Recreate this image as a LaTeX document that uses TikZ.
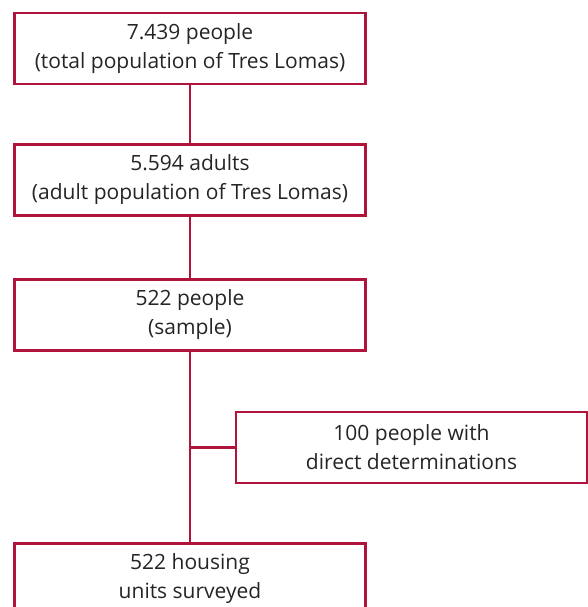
\documentclass[tikz,border=0pt]{standalone}
\usepackage{fontspec}
\setmainfont{Open Sans}
\definecolor{frame}{HTML}{B0143C}
\definecolor{ink}{HTML}{252525}
\begin{document}
\begin{tikzpicture}[x=1pt,y=-1pt,
  box/.style={draw=frame, line width=2.6pt, fill=white, minimum width=351pt, minimum height=71pt,
    inner sep=0pt, align=center, text=ink, font=\fontsize{21}{29}\selectfont},
  link/.style={draw=frame, line width=2.6pt}]
\useasboundingbox (0,0) rectangle (588,607);
\clip (0,0) rectangle (588,607);
\node[box] (b1) at (190,48.5) {7.439 people\\(total population of Tres Lomas)};
\node[box] (b2) at (190,180) {5.594 adults\\(adult population of Tres Lomas)};
\node[box] (b3) at (190,315) {522 people\\(sample)};
\node[box] (s) at (411.5,447.5) {100 people with\\direct determinations};
\node[box] (b4) at (190,579) {522 housing\\units surveyed};
\draw[link] (b1.south) -- (b2.north);
\draw[link] (b2.south) -- (b3.north);
\draw[link] (b3.south) -- (b4.north);
\draw[link] (s.west) -- (s.west -| b3.south);
\end{tikzpicture}
\end{document}
